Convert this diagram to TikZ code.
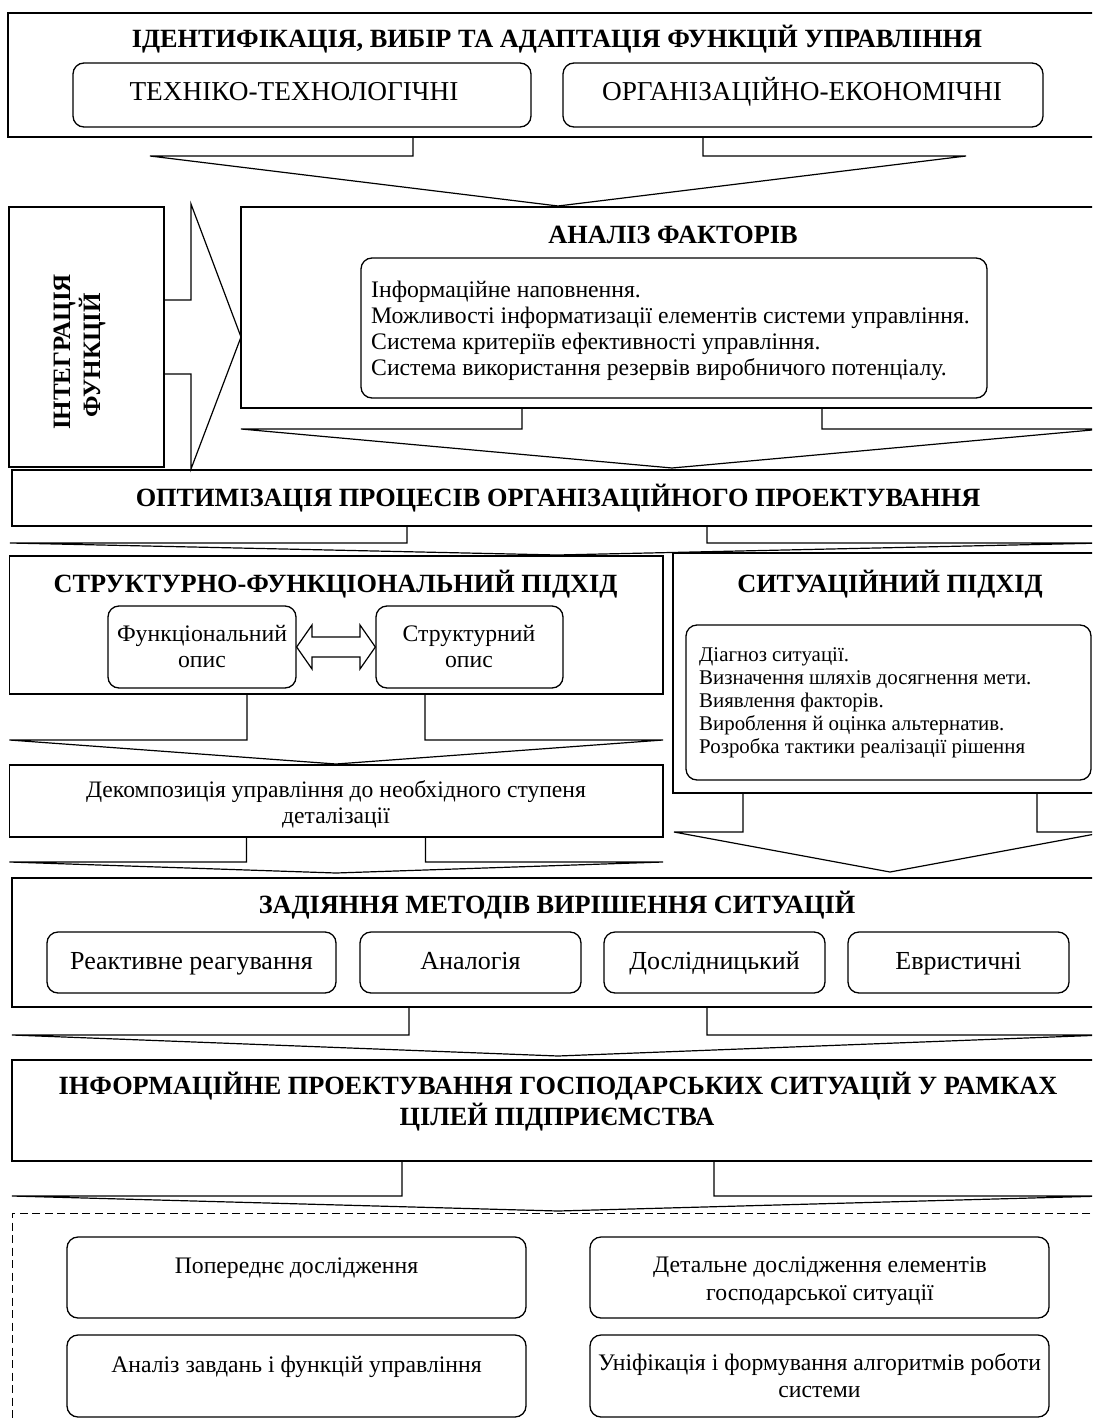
\documentclass[tikz,border=0pt]{standalone}
\usepackage{fontspec}
\setmainfont{Liberation Serif}
\usetikzlibrary{fit}
\newcommand\frbox[6]{\node[#1, fit={(#3,#4)(#5,#6)}] (#2) {};}
\newcommand\darrow[7]{\draw[arr] (#1,#3) -- (#1,#4) -- (#5,#4) -- ({(#1+#2)/2},#7) -- (#6,#4) -- (#2,#4) -- (#2,#3);}
\begin{document}
\begin{tikzpicture}[x=1pt,y=-1pt,
  frame/.style={draw, line width=1.5pt, inner sep=0pt, rectangle},
  rbox/.style={draw, line width=1.3pt, inner sep=0pt, rectangle, rounded corners=11pt},
  dashbox/.style={draw, line width=1pt, inner sep=0pt, rectangle, dash pattern=on 8pt off 4.5pt},
  arr/.style={line width=1.2pt, line join=miter},
  ttl/.style={font=\fontsize{26.3}{30}\selectfont\bfseries, inner sep=0pt},
  txtT/.style={font=\fontsize{27.3}{31}\selectfont, inner sep=0pt},
  txtL/.style={font=\fontsize{26}{30}\selectfont, inner sep=0pt},
  txtF/.style={font=\fontsize{23.7}{28}\selectfont, inner sep=0pt},
  txtM/.style={font=\fontsize{23.6}{28}\selectfont, inner sep=0pt},
  txtS/.style={font=\fontsize{23.7}{27}\selectfont, inner sep=0pt},
  txtXS/.style={font=\fontsize{20.9}{24}\selectfont, inner sep=0pt}]
\useasboundingbox (0,0) rectangle (1092,1421);
\clip (0,0) rectangle (1092,1421);
\fill[white] (0,0) rectangle (1092,1421);

% top block
\frbox{frame}{top}{8}{13}{1100}{137}
\node[ttl, anchor=base] (toptitle) at (557,48) {ІДЕНТИФІКАЦІЯ, ВИБІР ТА АДАПТАЦІЯ ФУНКЦІЙ УПРАВЛІННЯ};
\frbox{rbox}{tech}{73}{63}{531}{127}
\node[txtT, anchor=base] (techt) at (294,100) {ТЕХНІКО-ТЕХНОЛОГІЧНІ};
\frbox{rbox}{org}{563}{63}{1043}{127}
\node[txtT, anchor=base] (orgt) at (802,100) {ОРГАНІЗАЦІЙНО-ЕКОНОМІЧНІ};
\darrow{413}{703}{137}{156}{150}{966}{206}

% integration
\frbox{frame}{integ}{9}{207}{164}{467}
\draw[arr] (164,300) -- (191,300) -- (191,204) -- (241,337) -- (191,469) -- (191,374) -- (164,374);
\node[ttl, rotate=90, anchor=base, font=\fontsize{25}{29}\selectfont\bfseries] (integ1) at (70,352) {ІНТЕГРАЦІЯ};
\node[ttl, rotate=90, anchor=base, font=\fontsize{25}{29}\selectfont\bfseries] (integ2) at (100,355) {ФУНКЦІЙ};

% analysis
\frbox{frame}{analiz}{241}{207}{1100}{408}
\node[ttl, anchor=base] (analizt) at (673,243) {АНАЛІЗ ФАКТОРІВ};
\frbox{rbox}{factors}{361}{258}{987}{398}
\node[txtS, anchor=base west] (f1) at (371,297) {Інформаційне наповнення.};
\node[txtS, anchor=base west] (f2) at (371,323) {Можливості інформатизації елементів системи управління.};
\node[txtS, anchor=base west] (f3) at (371,349) {Система критеріїв ефективності управління.};
\node[txtS, anchor=base west] (f4) at (371,375) {Система використання резервів виробничого потенціалу.};
\darrow{522}{822}{408}{429}{241}{1103}{468}

% optimisation
\frbox{frame}{optim}{12}{470}{1100}{526}
\node[ttl, anchor=base] (optimt) at (558,506) {ОПТИМІЗАЦІЯ ПРОЦЕСІВ ОРГАНІЗАЦІЙНОГО ПРОЕКТУВАННЯ};
\darrow{407}{707}{526}{543}{10}{1104}{555}

% structural-functional
\frbox{frame}{struct}{9.5}{556}{663}{694}
\node[ttl, anchor=base] (structt) at (335.5,592) {СТРУКТУРНО-ФУНКЦІОНАЛЬНИЙ ПІДХІД};
\frbox{rbox}{funk}{108}{606}{296}{688}
\node[txtF, anchor=base] (funk1) at (202,641) {Функціональний};
\node[txtF, anchor=base] (funk2) at (202,667) {опис};
\frbox{rbox}{strk}{376}{606}{563}{688}
\node[txtF, anchor=base] (strk1) at (469,641) {Структурний};
\node[txtF, anchor=base] (strk2) at (469,667) {опис};
\draw[arr] (funk.east |- 0,647) -- (312,625) -- (312,637) -- (360,637) -- (360,625) -- (strk.west |- 0,647) -- (360,669) -- (360,657) -- (312,657) -- (312,669) -- cycle;

% situational
\frbox{frame}{sit}{673}{553}{1100}{793}
\node[ttl, anchor=base] (sitt) at (890,592) {СИТУАЦІЙНИЙ ПІДХІД};
\frbox{rbox}{sitlist}{686}{625}{1091}{780}
\node[txtXS, anchor=base west] (s1) at (699,661) {Діагноз ситуації.};
\node[txtXS, anchor=base west] (s2) at (699,684) {Визначення шляхів досягнення мети.};
\node[txtXS, anchor=base west] (s3) at (699,707) {Виявлення факторів.};
\node[txtXS, anchor=base west] (s4) at (699,730) {Вироблення й оцінка альтернатив.};
\node[txtXS, anchor=base west] (s5) at (699,753) {Розробка тактики реалізації рішення};

% decomposition
\darrow{247}{425}{694}{740}{9.5}{663}{764}
\frbox{frame}{dekomp}{9.5}{765}{663}{837}
\node[txtM, anchor=base] (d1) at (336,797) {Декомпозиція управління до необхідного ступеня};
\node[txtM, anchor=base] (d2) at (336,823) {деталізації};
\darrow{246.5}{425.5}{837}{862}{9.5}{663}{873}
\darrow{743}{1037}{793}{832}{674}{1106}{872}

% methods
\frbox{frame}{zad}{12}{878}{1100}{1007}
\node[ttl, anchor=base] (zadt) at (557,913) {ЗАДІЯННЯ МЕТОДІВ ВИРІШЕННЯ СИТУАЦІЙ};
\frbox{rbox}{m1}{47}{932}{336}{993}
\frbox{rbox}{m2}{360}{932}{581}{993}
\frbox{rbox}{m3}{604}{932}{825}{993}
\frbox{rbox}{m4}{848}{932}{1069}{993}
\node[txtL, anchor=base] (m1t) at (191.5,969) {Реактивне реагування};
\node[txtL, anchor=base] (m2t) at (470.5,969) {Аналогія};
\node[txtL, anchor=base] (m3t) at (714.5,969) {Дослідницький};
\node[txtL, anchor=base] (m4t) at (958.5,969) {Евристичні};
\darrow{409}{707}{1007}{1035}{12}{1104}{1056}

% information design
\frbox{frame}{info}{12}{1060}{1100}{1161}
\node[ttl, anchor=base] (info1) at (558,1094) {ІНФОРМАЦІЙНЕ ПРОЕКТУВАННЯ ГОСПОДАРСЬКИХ СИТУАЦІЙ У РАМКАХ};
\node[ttl, anchor=base] (info2) at (557,1125) {ЦІЛЕЙ ПІДПРИЄМСТВА};
\darrow{402}{714}{1161}{1196}{12}{1104}{1211}

% dashed block
\frbox{dashbox}{stages}{12}{1213}{1100}{1440}
\frbox{rbox}{b1}{67}{1237}{526}{1318}
\frbox{rbox}{b2}{67}{1335}{526}{1417}
\frbox{rbox}{b3}{590}{1237}{1049}{1318}
\frbox{rbox}{b4}{590}{1335}{1049}{1417}
\node[txtS, anchor=base] (b1t) at (296.5,1273) {Попереднє дослідження};
\node[txtS, anchor=base] (b2t) at (296.5,1372) {Аналіз завдань і функцій управління};
\node[txtS, anchor=base] (b3t) at (820,1272) {Детальне дослідження елементів};
\node[txtS, anchor=base] (b3u) at (820,1300) {господарської ситуації};
\node[txtS, anchor=base] (b4t) at (819.5,1370) {Уніфікація і формування алгоритмів роботи};
\node[txtS, anchor=base] (b4u) at (819.5,1397) {системи};
\end{tikzpicture}
\end{document}
